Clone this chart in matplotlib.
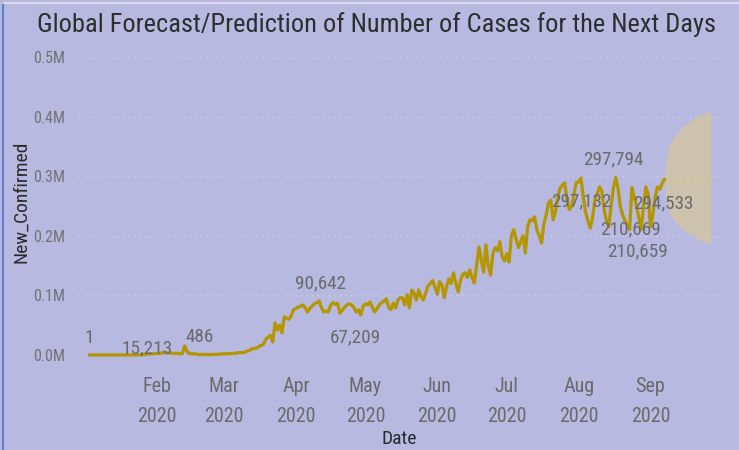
import matplotlib
matplotlib.use("Agg")
import matplotlib.pyplot as plt
import pandas as pd
from matplotlib import font_manager

avail = {f.name for f in font_manager.fontManager.ttflist}
fams = [f for f in ['Roboto Condensed', 'Liberation Sans Narrow', 'Open Sans Condensed',
                    'Roboto', 'Liberation Sans', 'DejaVu Sans'] if f in avail]
plt.rcParams['font.family'] = fams
CONDENSED = fams[0] in ('Roboto Condensed', 'Liberation Sans Narrow', 'Open Sans Condensed')

# ---------------- data ----------------
start_date = "2020-01-03"
jan = [1] + [0] * 18 + [100, 150, 250, 450, 700, 800, 1500, 1700, 2000, 2100]
feb = [2600, 2800, 3200, 3900, 3700, 3200, 3400, 2700, 3000, 2600, 2000, 2100, 15213, 6500,
       2100, 2100, 2000, 1800, 486, 600, 1000, 700, 600, 500, 900, 800, 1000, 1300, 1800]
mar = [1900, 2000, 2500, 2200, 2800, 2800, 3900, 3800, 4000, 4600,
       7000, 7500, 10500, 11000, 11500, 14000, 16000, 18000, 26000, 30000,
       33000, 22000, 54000, 42000, 50000, 37000, 64000, 62000, 60000, 66000, 76000]
apr = [78000, 80000, 82000, 84000, 79000, 72000, 78000, 82000, 86000, 88000,
       90642, 80000, 72000, 74000, 72000, 83000, 88000, 85000, 87000, 70000,
       75000, 80000, 84000, 86000, 84000, 80000, 72000, 76000, 67209, 82000]
may = [86000, 84000, 89000, 80000, 72000, 78000, 84000, 88000, 90000, 94000,
       80000, 76000, 87000, 79000, 92000, 96000, 96000, 84000, 101000, 79000,
       109000, 104000, 92000, 109000, 98000, 92000, 104000, 116000, 120000, 125000, 114000]
jun = [102000, 123000, 118000, 96000, 114000, 128000, 120000, 138000, 120000, 106000,
       125000, 135000, 138000, 130000, 143000, 130000, 121000, 150000, 181000, 160000,
       139000, 185000, 150000, 134000, 170000, 180000, 175000, 190000, 165000, 158000]
jul = [170000, 156000, 200000, 210000, 195000, 180000, 190000, 200000, 171000, 215000,
       227000, 225000, 232000, 210000, 200000, 188000, 220000, 235000, 255000, 260000,
       227000, 240000, 265000, 280000, 285000, 289000, 260000, 244000, 250000, 270000, 290000]
aug = [290000, 297132, 265000, 240000, 225000, 213000, 230000, 260000, 270000, 282000,
       275000, 244000, 225000, 215000, 250000, 280000, 297794, 280000, 249000, 235000,
       225000, 218000, 210669, 281000, 265000, 250000, 230000, 210659, 250000, 282000, 270000]
sep = [215000, 235000, 265000, 282000, 278000, 288000, 294533]

new_confirmed = jan + feb + mar + apr + may + jun + jul + aug + sep
dates = pd.date_range(start_date, periods=len(new_confirmed), freq="D")

fc_dates = pd.to_datetime(["2020-09-07", "2020-09-08", "2020-09-09", "2020-09-10", "2020-09-13",
                           "2020-09-17", "2020-09-21", "2020-09-24", "2020-09-27"])
fc_mid = [294533, 294300, 294100, 293900, 293600, 293200, 292800, 292500, 292200]
fc_upper = [300000, 335000, 350000, 358000, 375000, 390000, 400000, 405000, 408000]
fc_lower = [290000, 255000, 240000, 232000, 218000, 205000, 196000, 190000, 185000]

labels = [("1", "2020-01-03"), ("15,213", "2020-02-13"), ("486", "2020-02-19"),
          ("90,642", "2020-04-11"), ("67,209", "2020-04-29"), ("297,794", "2020-08-17"),
          ("297,132", "2020-08-02"), ("294,533", "2020-09-07"), ("210,669", "2020-08-23"),
          ("210,659", "2020-08-28")]
label_offsets = [(0, 12), (-27, -2), (1, 13), (1, 13), (-4, -16), (-2, 13),
                 (0, -17), (-1, -17), (1, 0), (-3, -16)]

month_ticks = pd.to_datetime(["2020-02-01", "2020-03-01", "2020-04-01", "2020-05-01",
                              "2020-06-01", "2020-07-01", "2020-08-01", "2020-09-01"])
month_names = ["Feb", "Mar", "Apr", "May", "Jun", "Jul", "Aug", "Sep"]
y_ticks = [0, 100000, 200000, 300000, 400000, 500000]
y_tick_labels = ["0.0M", "0.1M", "0.2M", "0.3M", "0.4M", "0.5M"]

# ---------------- style ----------------
BG = "#b7b9e0"
LINE = "#b39600"
W, H = 739, 450
title_fs = 19 if CONDENSED else 15.5
tick_fs = 14.5 if CONDENSED else 13
lab_fs = 13.8 if CONDENSED else 12.5
axlab_fs = 14 if CONDENSED else 12
ytick_fs = 11.5 if CONDENSED else 10

fig = plt.figure(figsize=(W / 100, H / 100), dpi=100, facecolor=BG)
ax = fig.add_axes([78 / W, (H - 355) / H, (720 - 78) / W, (355 - 57) / H])
ax.set_facecolor(BG)

ax.fill_between(fc_dates, fc_lower, fc_upper, color="#cdc2ae", lw=0, zorder=2)
ax.plot(fc_dates, fc_mid, color="#e3c24a", lw=1.6, ls=(0, (1, 3)), zorder=3)
ax.plot(dates, new_confirmed, color=LINE, lw=2.3, solid_joinstyle="round", zorder=4, clip_on=False)

vals = dict(zip(dates, new_confirmed))
for (txt, d), off in zip(labels, label_offsets):
    d = pd.Timestamp(d)
    ax.annotate(txt, xy=(d, vals[d]), xytext=off, textcoords="offset points",
                ha="center", va="center", fontsize=lab_fs, color="#6a6a6a", zorder=5)

ax.set_xlim(pd.Timestamp("2019-12-29"), pd.Timestamp("2020-10-01"))
ax.set_ylim(0, 500000)
ax.set_yticks(y_ticks)
ax.set_yticklabels(y_tick_labels)
ax.set_xticks(month_ticks)
ax.set_xticklabels([f"{m}\n2020" for m in month_names], linespacing=1.7)
ax.tick_params(axis="y", length=0, pad=9, labelsize=ytick_fs, labelcolor="#737373")
ax.tick_params(axis="x", length=0, pad=16, labelsize=tick_fs, labelcolor="#6a6a6a")
for s in ax.spines.values():
    s.set_visible(False)
ax.grid(axis="y", color="#cfd0e6", lw=1.0, ls=(0, (1, 3)))
ax.grid(axis="x", visible=False)
ax.set_axisbelow(True)

fig.text(37 / W, 1 - 32 / H, "Global Forecast/Prediction of Number of Cases for the Next Days",
         fontsize=title_fs, color="#2e2e2e", ha="left", va="baseline")
fig.text(399 / W, 1 - 444 / H, "Date", fontsize=axlab_fs, color="#2a2a2a", ha="center", va="baseline")
fig.text(21 / W, 1 - 202 / H, "New_Confirmed", fontsize=axlab_fs, color="#2a2a2a",
         rotation=90, ha="center", va="center")

# frame border
fig.add_artist(plt.Line2D([3 / W, 3 / W], [0, 1 - 3 / H], color="#5b7fd0", lw=1.5,
                          transform=fig.transFigure))
fig.add_artist(plt.Line2D([3 / W, 1], [1 - 3 / H, 1 - 3 / H], color="#e6e0ee", lw=1.2,
                          transform=fig.transFigure))

fig.savefig("out.png", dpi=100, facecolor=BG)
